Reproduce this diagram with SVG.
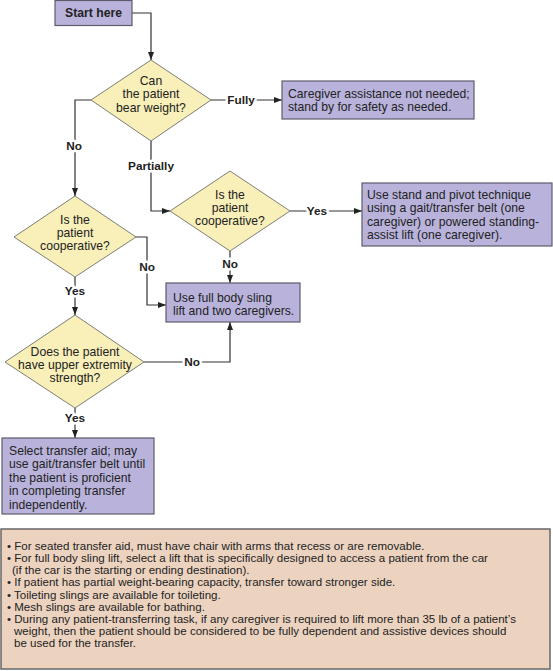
<svg xmlns="http://www.w3.org/2000/svg" width="553" height="671" viewBox="0 0 553 671">
<defs>
<marker id="arr" viewBox="0 0 8 6" refX="8" refY="3" markerWidth="8" markerHeight="6" markerUnits="userSpaceOnUse" orient="auto">
<path d="M0,0 L8,3 L0,6 Z" fill="#222"/>
</marker>
<style>
.box{fill:#b9b3dc;stroke:#5c5c6c;stroke-width:1.2}
.dia{fill:#f8efb9;stroke:#7e7e76;stroke-width:1}
.note{fill:#ecd3c0;stroke:#666;stroke-width:1.5}
.t{font-family:"Liberation Sans",Arial,sans-serif;font-size:12.2px;fill:#222}
.c{text-anchor:middle}
.b{font-weight:bold}
.lbl{font-family:"Liberation Sans",Arial,sans-serif;font-size:11.8px;font-weight:bold;fill:#222;text-anchor:middle;stroke:#fff;stroke-width:5;paint-order:stroke;stroke-linejoin:round}
.n{font-family:"Liberation Sans",Arial,sans-serif;font-size:11.55px;fill:#222}
.ln{fill:none;stroke:#333;stroke-width:1.2}
</style>
</defs>
<rect width="553" height="671" fill="#fff"/>
<g id="connectors">
<path class="ln" d="M132,13 H151 V60" marker-end="url(#arr)"/>
<path class="ln" d="M211,100 H282" marker-end="url(#arr)"/>
<path class="ln" d="M91,100 H75 V196" marker-end="url(#arr)"/>
<path class="ln" d="M151,141 V211 H170" marker-end="url(#arr)"/>
<path class="ln" d="M290,211 H362" marker-end="url(#arr)"/>
<path class="ln" d="M230,251 V283" marker-end="url(#arr)"/>
<path class="ln" d="M135,237 H147 V305 H166" marker-end="url(#arr)"/>
<path class="ln" d="M75,277 V315" marker-end="url(#arr)"/>
<path class="ln" d="M144,362 H230 V322" marker-end="url(#arr)"/>
<path class="ln" d="M75,408 V438" marker-end="url(#arr)"/>
<text class="lbl" x="241" y="104">Fully</text>
<text class="lbl" x="74" y="150">No</text>
<text class="lbl" x="151" y="170">Partially</text>
<text class="lbl" x="317" y="215">Yes</text>
<text class="lbl" x="230" y="268">No</text>
<text class="lbl" x="147" y="271">No</text>
<text class="lbl" x="75" y="295">Yes</text>
<text class="lbl" x="192" y="366">No</text>
<text class="lbl" x="75" y="422">Yes</text>
</g>
<g id="start">
<rect class="box" x="55" y="0.5" width="77" height="25"/>
<text class="t c b" x="93.5" y="17">Start here</text>
</g>
<g id="q-bear-weight">
<polygon class="dia" points="151,60 211,100 151,141 91,100"/>
<text class="t c" x="151" y="84.5">Can</text>
<text class="t c" x="151" y="98">the patient</text>
<text class="t c" x="151" y="111.5">bear weight?</text>
</g>
<g id="no-assist">
<rect class="box" x="282" y="81" width="192" height="38"/>
<text class="t" x="288" y="97.5">Caregiver assistance not needed;</text>
<text class="t" x="288" y="110.5">stand by for safety as needed.</text>
</g>
<g id="q-coop-partial">
<polygon class="dia" points="230,171 290,211 230,251 170,211"/>
<text class="t c" x="230" y="198.5">Is the</text>
<text class="t c" x="230" y="211.5">patient</text>
<text class="t c" x="230" y="224.5">cooperative?</text>
</g>
<g id="stand-pivot">
<rect class="box" x="362" y="183" width="190" height="63"/>
<text class="t" x="367" y="198.5">Use stand and pivot technique</text>
<text class="t" x="367" y="212">using a gait/transfer belt (one</text>
<text class="t" x="367" y="225.5">caregiver) or powered standing-</text>
<text class="t" x="367" y="239">assist lift (one caregiver).</text>
</g>
<g id="q-coop-no">
<polygon class="dia" points="75,196 136,237 75,277 14,237"/>
<text class="t c" x="75" y="223.5">Is the</text>
<text class="t c" x="75" y="236.5">patient</text>
<text class="t c" x="75" y="249.5">cooperative?</text>
</g>
<g id="full-sling">
<rect class="box" x="166" y="283" width="134" height="39"/>
<text class="t" x="173" y="301.5">Use full body sling</text>
<text class="t" x="173" y="314.5">lift and two caregivers.</text>
</g>
<g id="q-upper-strength">
<polygon class="dia" points="75,315 144,362 75,408 5,362"/>
<text class="t c" x="75" y="355.5">Does the patient</text>
<text class="t c" x="75" y="368.5">have upper extremity</text>
<text class="t c" x="75" y="381.5">strength?</text>
</g>
<g id="transfer-aid">
<rect class="box" x="2" y="438" width="152" height="76"/>
<text class="t" x="9" y="454.5">Select transfer aid; may</text>
<text class="t" x="9" y="468">use gait/transfer belt until</text>
<text class="t" x="9" y="481.5">the patient is proficient</text>
<text class="t" x="9" y="495">in completing transfer</text>
<text class="t" x="9" y="508.5">independently.</text>
</g>
<g id="notes">
<rect class="note" x="1" y="529" width="549" height="140"/>
<text class="n" x="7" y="550">• For seated transfer aid, must have chair with arms that recess or are removable.</text>
<text class="n" x="7" y="562">• For full body sling lift, select a lift that is specifically designed to access a patient from the car</text>
<text class="n" x="12" y="574">(if the car is the starting or ending destination).</text>
<text class="n" x="7" y="586">• If patient has partial weight-bearing capacity, transfer toward stronger side.</text>
<text class="n" x="7" y="599">• Toileting slings are available for toileting.</text>
<text class="n" x="7" y="611">• Mesh slings are available for bathing.</text>
<text class="n" x="7" y="623">• During any patient-transferring task, if any caregiver is required to lift more than 35 lb of a patient’s</text>
<text class="n" x="14" y="635">weight, then the patient should be considered to be fully dependent and assistive devices should</text>
<text class="n" x="14" y="647">be used for the transfer.</text>
</g>
</svg>
